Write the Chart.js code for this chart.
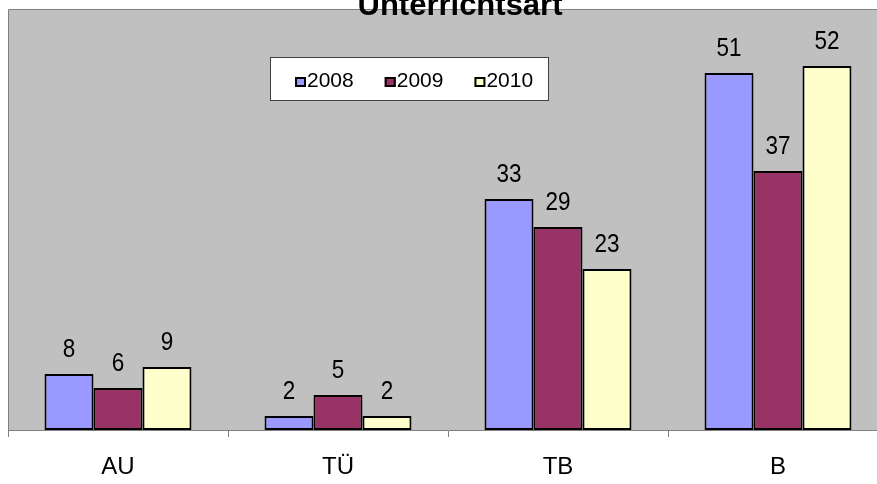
<!DOCTYPE html>
<html>
<head>
<meta charset="utf-8">
<script src="https://cdn.jsdelivr.net/npm/chart.js@4/dist/chart.umd.min.js"></script>
<style>
    html, body { margin: 0; padding: 0; background: #fff; }
    #wrap { width: 877px; height: 484px; overflow: hidden; }
    #unterrichtChart { display: block; }
</style>
</head>
<body>
<div id="wrap">
    <canvas id="unterrichtChart" width="890" height="484"></canvas>
</div>
<script>
const chartTitle = 'Unterrichtsart';
const categories = ['AU', 'TÜ', 'TB', 'B'];
const seriesNames = ['2008', '2009', '2010'];
const values2008 = [8, 2, 33, 51];
const values2009 = [6, 5, 29, 37];
const values2010 = [9, 2, 23, 52];
const seriesColors = ['#9999FF', '#993366', '#FFFFCC'];

const FONT = "Arial, 'Liberation Sans', sans-serif";

// Gray plot area with a darker frame
const plotBackground = {
    id: 'plotBackground',
    beforeDraw(chart) {
        const { ctx, chartArea: a } = chart;
        ctx.save();
        ctx.fillStyle = '#C0C0C0';
        ctx.fillRect(a.left, a.top, a.right - a.left, a.bottom - a.top);
        ctx.strokeStyle = '#808080';
        ctx.lineWidth = 1;
        ctx.beginPath();
        ctx.moveTo(a.left + 0.5, a.bottom);
        ctx.lineTo(a.left + 0.5, a.top - 0.5);
        ctx.lineTo(a.right, a.top - 0.5);
        ctx.stroke();
        ctx.restore();
    }
};

// Values above every bar (slightly narrow text like the original)
const valueLabels = {
    id: 'valueLabels',
    afterDatasetsDraw(chart) {
        const { ctx } = chart;
        ctx.save();
        ctx.font = '25px ' + FONT;
        ctx.fillStyle = '#000';
        ctx.textAlign = 'center';
        ctx.textBaseline = 'alphabetic';
        chart.data.datasets.forEach((ds, i) => {
            chart.getDatasetMeta(i).data.forEach((bar, j) => {
                ctx.save();
                ctx.translate(bar.x, bar.y - 17);
                ctx.scale(0.9, 1);
                ctx.fillText(ds.data[j], 0, 0);
                ctx.restore();
            });
        });
        ctx.restore();
    }
};

// Boxed legend inside the plot area, plus the title on top
const boxLegend = {
    id: 'boxLegend',
    afterDraw(chart) {
        const { ctx } = chart;
        ctx.save();
        // legend frame
        ctx.fillStyle = '#fff';
        ctx.fillRect(270, 57, 278, 43);
        ctx.strokeStyle = '#404040';
        ctx.lineWidth = 1;
        ctx.strokeRect(270.5, 57.5, 278, 43);

        ctx.font = '21px ' + FONT;
        ctx.textBaseline = 'middle';
        ctx.textAlign = 'left';
        let x = 295;
        chart.data.datasets.forEach((ds) => {
            ctx.fillStyle = ds.backgroundColor;
            ctx.fillRect(x, 77, 11, 10);
            ctx.strokeStyle = '#000';
            ctx.lineWidth = 2;
            ctx.strokeRect(x + 1, 78, 9, 8);
            ctx.fillStyle = '#000';
            ctx.fillText(ds.label, x + 12, 81);
            x += 12 + ctx.measureText(ds.label).width + 31;
        });

        // title, partly cut by the top edge
        ctx.font = 'bold 31px ' + FONT;
        ctx.textAlign = 'center';
        ctx.textBaseline = 'alphabetic';
        ctx.fillStyle = '#000';
        ctx.fillText(chartTitle, 460, 15);
        ctx.restore();
    }
};

const seriesData = [values2008, values2009, values2010];

const ctx = document.getElementById('unterrichtChart').getContext('2d');
new Chart(ctx, {
    type: 'bar',
    data: {
        labels: categories,
        datasets: seriesNames.map((name, i) => ({
            label: name,
            data: seriesData[i],
            backgroundColor: seriesColors[i],
            borderColor: '#000',
            borderWidth: 2,
            borderSkipped: false,
            categoryPercentage: 0.668,
            barPercentage: 1.0
        }))
    },
    options: {
        responsive: false,
        animation: false,
        devicePixelRatio: 1,
        layout: {
            padding: { left: 8, right: 2, top: 10, bottom: 0 }
        },
        plugins: {
            legend: { display: false },
            title: { display: false },
            tooltip: { enabled: false }
        },
        scales: {
            y: {
                display: false,
                min: 0,
                max: 60
            },
            x: {
                offset: true,
                afterFit(scale) {
                    scale.height = 54;
                },
                border: {
                    display: true,
                    color: '#808080',
                    width: 1
                },
                grid: {
                    display: true,
                    offset: true,
                    drawOnChartArea: false,
                    drawTicks: true,
                    tickLength: 7,
                    color: '#808080'
                },
                ticks: {
                    padding: 16,
                    color: '#000',
                    font: {
                        family: FONT,
                        size: 24
                    }
                }
            }
        }
    },
    plugins: [plotBackground, valueLabels, boxLegend]
});
</script>
</body>
</html>
